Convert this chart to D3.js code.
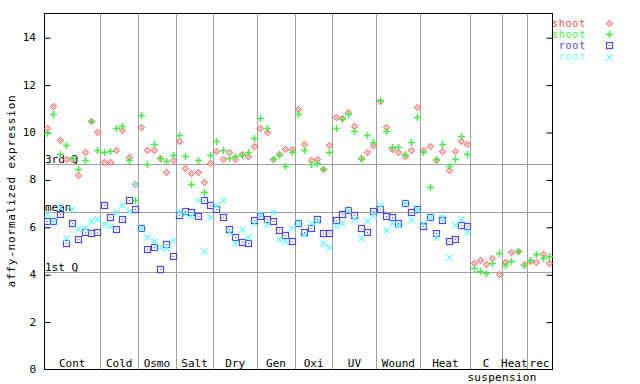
<!doctype html>
<html>
<head>
<title>affy expression</title>
<script src="https://d3js.org/d3.v7.min.js"></script>
</head>
<style>
body { margin: 0; background: #fff; }
svg { display: block; }
text { font-family: "DejaVu Sans Mono", monospace; font-size: 11px; }
</style>
<body>
<script>

// groups along the x axis and how many samples each holds
var groups = ["Cont","Cold","Osmo","Salt","Dry","Gen","Oxi","UV","Wound","Heat","C","Heat","rec"];
var groupSizes = [9,6,6,6,7,6,6,7,7,8,5,4,4];

// shoot replicate 1 (red diamonds)
var shootA = [10.15,11.09,9.68,8.84,8.84,8.17,9.14,10.47,10.02,
  8.73,8.73,9.22,10.1,8.94,7.79,
  10.19,9.26,9.26,8.92,8.33,8.8,
  9.6,8.46,8.25,8.33,7.87,8.71,
  9.18,8.84,9.14,8.88,9.09,8.97,9.43,
  10.15,9.98,8.84,9.09,9.3,9.3,
  10.95,9.51,8.8,8.84,8.42,9.47,
  10.65,10.57,10.86,10.27,8.92,9.14,9.47,
  11.3,10.23,9.3,9.14,8.97,9.26,11.07,
  9.26,9.43,8.8,9.18,8.38,9.18,9.64,9.51,
  4.46,4.62,4.41,4.68,3.99,
  4.5,4.92,4.96,4.41,
  4.54,4.5,4.84,4.46];

// shoot replicate 2 (green plus)
var shootB = [9.94,10.78,9.06,9.47,8.92,8.42,8.8,10.47,9.26,
  9.14,9.18,10.15,10.24,8.8,7.15,
  10.7,8.67,9.51,8.92,8.76,9.05,
  9.89,8.97,7.79,8.8,7.45,9.05,
  9.6,9.26,8.92,8.97,9.05,9.14,9.73,
  10.61,10.15,8.84,9.01,8.55,9.14,
  10.78,9.22,8.63,8.71,8.42,9.14,
  10.15,10.53,10.74,10.06,8.88,9.89,9.56,
  11.35,10.06,9.35,9.35,9.09,9.56,10.65,
  9.14,7.7,8.88,9.51,8.55,8.88,9.85,9.09,
  4.25,4.12,4.03,4.46,4.88,
  4.37,4.54,4.96,4.37,
  4.58,4.84,4.67,4.75];

// root replicate 1 (blue squares), none for suspension
var rootA = [6.23,6.23,6.52,5.3,6.18,5.47,5.76,5.72,5.76,
  6.9,6.4,5.89,6.35,7.15,6.77,
  5.97,5.05,5.13,4.2,5.26,4.75,
  6.48,6.65,6.61,6.44,7.11,6.94,
  6.77,6.4,5.89,5.55,5.34,5.3,6.27,
  6.44,6.31,6.23,5.85,5.64,5.38,
  6.14,5.76,5.97,6.31,5.72,5.72,
  6.27,6.56,6.69,6.48,5.93,5.8,6.65,
  6.73,6.44,6.4,6.18,6.99,6.61,6.77,
  6.02,6.4,5.72,6.27,5.38,5.47,6.06,6.02,
  null,null,null,null,null,null,null,null,null,null,null,null,null];

// root replicate 2 (cyan crosses)
var rootB = [6.56,6.25,6.84,5.53,6.75,5.9,5.97,6.23,6.31,
  6.1,6.02,6.61,6.94,6.65,7.79,
  5.97,5.55,5.38,5.13,5.09,5.43,
  6.65,6.56,6.44,7.15,4.96,6.4,
  6.94,7.11,5.8,5.3,5.89,5.55,6.14,
  6.52,6.1,6.61,5.47,5.38,5.93,
  6.14,5.68,6.14,6.23,5.3,5.13,
  6.02,6.18,6.69,6.31,5.51,6.23,6.48,
  6.9,5.85,6.18,6.06,6.99,6.27,6.77,
  6.14,6.4,5.59,6.4,4.71,6.06,6.31,5.76,
  null,null,null,null,null,null,null,null,null,null,null,null,null];

var yTicks = [0,2,4,6,8,10,12,14];
var quartiles = [{name:"3rd Q", v:8.67},{name:"mean", v:6.61},{name:"1st Q", v:4.08}];

var svg = d3.select("body").append("svg").attr("width",640).attr("height",384);

var plotLeft = 44, plotRight = 552, plotTop = 13, plotBottom = 369;

var n = d3.sum(groupSizes);
var xscale = d3.scaleBand().domain(d3.range(n)).range([plotLeft,plotRight]).padding(0);
var yscale = d3.scaleLinear().domain([0,15]).range([plotBottom,plotTop + 0.5]);
var cx = function(i){ return xscale(i) + xscale.bandwidth()/2; };

var grey = "#a0a0a0";
var red = "#ff4848", green = "#44ee44", blue = "#4848ee", cyan = "#66ffff";

// group separators
var starts = [0];
groupSizes.forEach(function(s,i){ starts.push(starts[i] + s); });
svg.append("g").selectAll("line").data(starts.slice(1,-1)).enter().append("line")
  .attr("x1",function(d){return Math.round(xscale(d))+0.5;})
  .attr("x2",function(d){return Math.round(xscale(d))+0.5;})
  .attr("y1",plotTop).attr("y2",plotBottom)
  .attr("stroke",grey).attr("stroke-width",1);

// quartile lines
svg.append("g").selectAll("line").data(quartiles).enter().append("line")
  .attr("x1",plotLeft).attr("x2",plotRight)
  .attr("y1",function(d){return Math.round(yscale(d.v))+0.5;})
  .attr("y2",function(d){return Math.round(yscale(d.v))+0.5;})
  .attr("stroke",grey).attr("stroke-width",1);

svg.append("g").selectAll("text").data(quartiles).enter().append("text")
  .attr("x",plotLeft+1).attr("y",function(d){return Math.round(yscale(d.v))-1;})
  .attr("fill","#000").text(function(d){return d.name;});

// frame
svg.append("rect").attr("x",plotLeft+0.5).attr("y",plotTop+0.5)
  .attr("width",plotRight-plotLeft).attr("height",plotBottom-plotTop)
  .attr("fill","none").attr("stroke","#000").attr("stroke-width",1);

// y axes: ticks point inward on both sides
var yaxisL = svg.append("g").attr("transform","translate(" + (plotLeft+0.5) + ",0.5)")
  .call(d3.axisRight(yscale).tickValues(yTicks.slice(1)).tickSize(6).tickFormat(""));
yaxisL.select(".domain").remove();
var yaxisR = svg.append("g").attr("transform","translate(" + (plotRight+0.5) + ",0.5)")
  .call(d3.axisLeft(yscale).tickValues(yTicks.slice(1)).tickSize(6).tickFormat(""));
yaxisR.select(".domain").remove();

svg.append("g").selectAll("text").data(yTicks).enter().append("text")
  .attr("x",36).attr("y",function(d){return yscale(d)+4;})
  .attr("text-anchor","end").attr("fill","#000").text(function(d){return d;});

svg.append("text")
  .attr("transform","translate(15," + ((plotTop+plotBottom)/2) + ") rotate(-90)")
  .attr("text-anchor","middle").attr("fill","#000").style("letter-spacing","0.8px")
  .text("affy-normalized expression");

// group labels
svg.append("g").selectAll("text").data(groups).enter().append("text")
  .attr("x",function(d,i){return (xscale(starts[i]) + xscale(starts[i+1]-1) + xscale.bandwidth())/2;})
  .attr("y",plotBottom-2).attr("text-anchor","middle").attr("fill","#000")
  .text(function(d){return d;});
svg.append("text").attr("x",502).attr("y",plotBottom+12).attr("text-anchor","middle")
  .attr("fill","#000").style("letter-spacing","0.3px").text("suspension");

// markers
function drawSeries(vals, shape, color) {
  var pts = vals.map(function(v,i){return {i:i, v:v};}).filter(function(d){return d.v != null;});
  var g = svg.append("g");
  pts.forEach(function(d){
    var x = Math.round(cx(d.i)) + 0.5, y = Math.round(yscale(d.v)) + 0.5;
    drawMark(g, shape, color, x, y);
  });
}

function drawMark(g, shape, color, x, y) {
  if (shape == "diamond") {
    g.append("path").attr("d","M" + x + "," + (y-3.2) + "L" + (x+3.2) + "," + y + "L" + x + "," + (y+3.2) + "L" + (x-3.2) + "," + y + "Z")
      .attr("fill","#ffc8c8").attr("stroke",color).attr("stroke-width",0.9);
  } else if (shape == "plus") {
    g.append("path").attr("d","M" + (x-3.5) + "," + y + "H" + (x+3.5) + "M" + x + "," + (y-3.5) + "V" + (y+3.5))
      .attr("stroke",color).attr("stroke-width",1.5).attr("fill","none");
  } else if (shape == "square") {
    g.append("rect").attr("x",x-3).attr("y",y-3).attr("width",6).attr("height",6)
      .attr("fill","none").attr("stroke",color).attr("stroke-width",1.2);
    g.append("rect").attr("x",x-0.5).attr("y",y-0.5).attr("width",1).attr("height",1).attr("fill",color);
  } else {
    g.append("path").attr("d","M" + (x-3) + "," + (y-3) + "L" + (x+3) + "," + (y+3) + "M" + (x+3) + "," + (y-3) + "L" + (x-3) + "," + (y+3))
      .attr("stroke",color).attr("stroke-width",1.1).attr("fill","none");
  }
}

drawSeries(shootA, "diamond", red);
drawSeries(shootB, "plus", green);
drawSeries(rootA, "square", blue);
drawSeries(rootB, "cross", cyan);

// legend
var legend = [{t:"shoot",s:"diamond",c:red},{t:"shoot",s:"plus",c:green},{t:"root",s:"square",c:blue},{t:"root",s:"cross",c:cyan}];
var lg = svg.append("g");
legend.forEach(function(d,i){
  var y = 23 + i*11.2;
  lg.append("text").attr("x",586).attr("y",y+3.5).attr("text-anchor","end").attr("fill",d.c)
    .style("font-size","10px").style("letter-spacing","0.8px").text(d.t);
  drawMark(lg, d.s, d.c, 609.5, Math.round(y)+0.5);
});

</script>
</body>
</html>
